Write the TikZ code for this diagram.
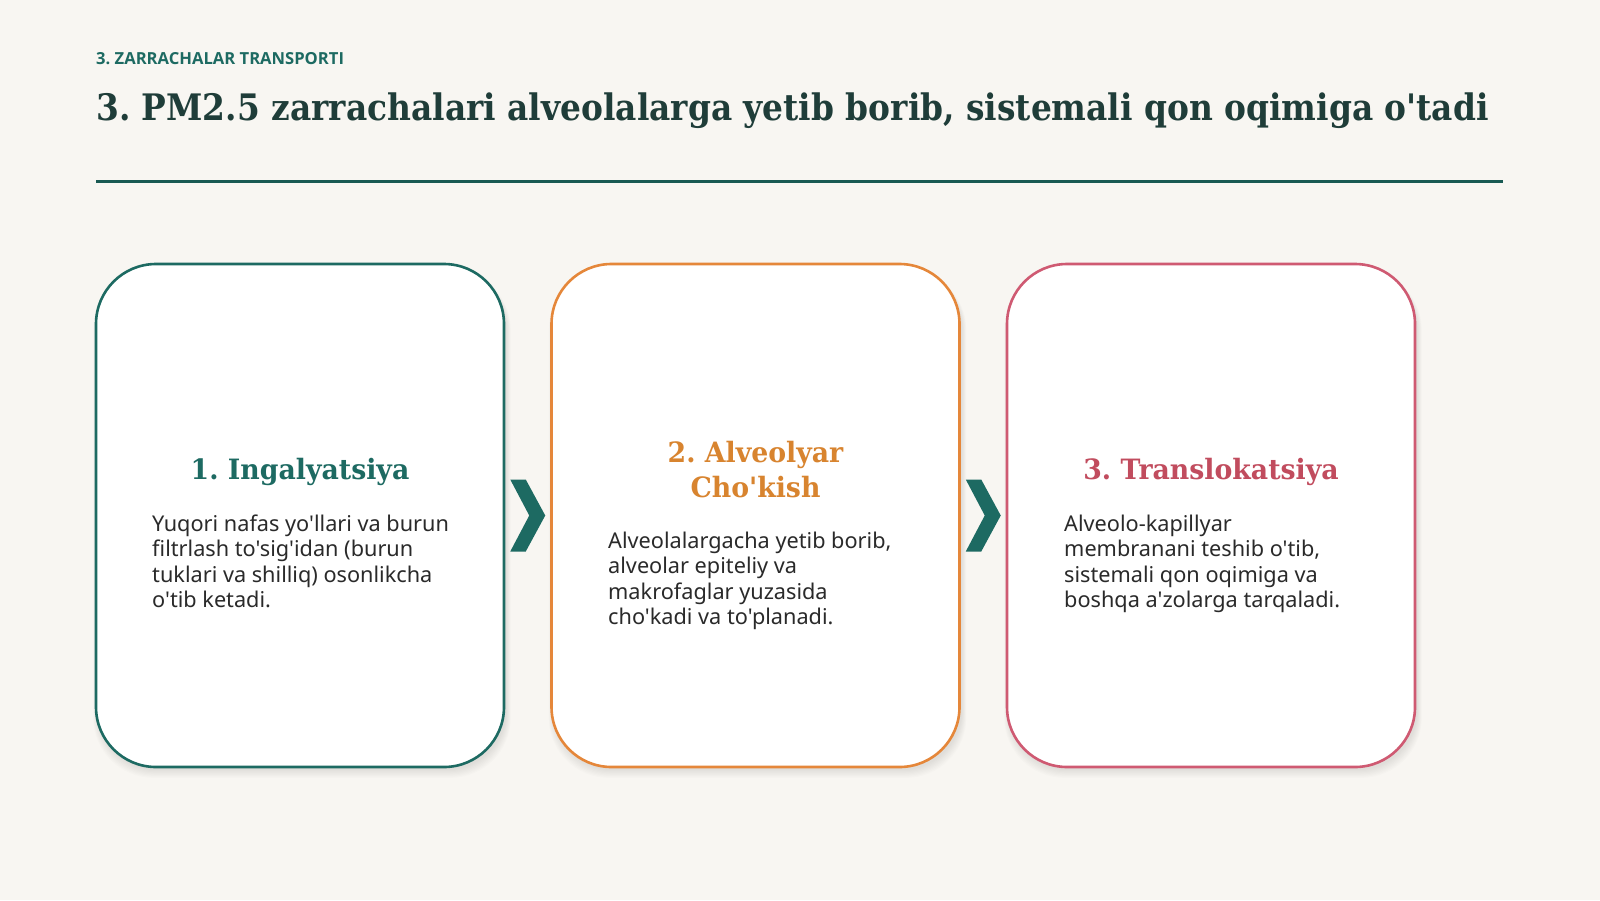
\documentclass[tikz,border=0pt]{standalone}
\usepackage{fontspec}
\setmainfont{Noto Sans}[Ligatures=TeXOff]
\newfontfamily\hdrfont{Open Sans}[Ligatures=TeXOff]
\newfontfamily\titlefont[FakeStretch=0.9]{DejaVu Serif}
\newfontfamily\cardfont[FakeStretch=0.955]{DejaVu Serif}
\usetikzlibrary{calc}
\definecolor{bgc}{HTML}{F8F6F2}
\definecolor{teal}{HTML}{1D6A62}
\definecolor{tealdark}{HTML}{1F3D39}
\definecolor{orng}{HTML}{E5873A}
\definecolor{orngt}{HTML}{D8842F}
\definecolor{crim}{HTML}{CF5A72}
\definecolor{crimt}{HTML}{C14C5E}
\definecolor{bodyc}{HTML}{2A2A2A}
\tikzset{
  card/.style={draw=#1, line width=2.6pt, fill=white, rounded corners=60pt,
    minimum width=408pt, minimum height=503pt, inner sep=0pt},
  cardtitle/.style={anchor=base, inner sep=0pt, font=\cardfont\bfseries\fontsize{28}{35}\selectfont},
  bodytext/.style={anchor=base west, inner sep=0pt, text=bodyc, font=\fontsize{21.7}{25.5}\selectfont},
  chev/.style={fill=teal},
}
\frenchspacing
\begin{document}
\begin{tikzpicture}[x=1pt,y=-1pt]
\fill[bgc] (0,0) rectangle (1600,900);
\useasboundingbox (0,0) rectangle (1600,900);
% header
\node[anchor=base west, inner sep=0pt, text=teal, font=\hdrfont\bfseries\fontsize{16.6}{19}\selectfont] (kicker) at (96,64) {3. ZARRACHALAR TRANSPORTI};
\node[anchor=base west, inner sep=0pt, text=tealdark, font=\titlefont\bfseries\fontsize{36.5}{44}\selectfont] (title) at (96,120) {3. PM2.5 zarrachalari alveolalarga yetib borib, sistemali qon oqimiga o'tadi};
\coordinate (ruleL) at (96,181);
\coordinate (ruleR) at (1503,181);
\draw[teal!85!black, line width=3pt] (ruleL) -- (ruleR);
% soft shadows
\foreach \cx in {300,755.5,1211}{
  \foreach \s in {1,...,8}{
    \fill[black, opacity=0.013, rounded corners=60pt]
      (\cx-204-\s*0.6+2, 264+6) rectangle (\cx+204+\s*0.6+2, 767+2+\s*1.1);
  }
}
% cards
\node[card=teal] (card1) at (300,515.5) {};
\node[card=orng] (card2) at (755.5,515.5) {};
\node[card=crim] (card3) at (1211,515.5) {};
% card 1
\node[cardtitle, text=teal] (t1) at (300,479) {1. Ingalyatsiya};
\node[bodytext] (b1) at (152,531) {\vtop{\baselineskip=25.5pt
  \hbox{Yuqori nafas yo'llari va burun}
  \hbox{filtrlash to'sig'idan (burun}
  \hbox{tuklari va shilliq) osonlikcha}
  \hbox{o'tib ketadi.}}};
% card 2
\node[cardtitle, text=orngt] (t2) at (755.5,462) {\vtop{\baselineskip=35pt\halign{\hfil#\hfil\cr 2. Alveolyar\cr Cho'kish\cr}}};
\node[bodytext] (b2) at (608,548) {\vtop{\baselineskip=25.5pt
  \hbox{Alveolalargacha yetib borib,}
  \hbox{alveolar epiteliy va}
  \hbox{makrofaglar yuzasida}
  \hbox{cho'kadi va to'planadi.}}};
% card 3
\node[cardtitle, text=crimt] (t3) at (1211,479) {3. Translokatsiya};
\node[bodytext] (b3) at (1064,531) {\vtop{\baselineskip=25.5pt
  \hbox{Alveolo-kapillyar}
  \hbox{membranani teshib o'tib,}
  \hbox{sistemali qon oqimiga va}
  \hbox{boshqa a'zolarga tarqaladi.}}};
% chevrons
\coordinate (c12) at ($(card1.east)!0.5!(card2.west)$);
\coordinate (c23) at ($(card2.east)!0.5!(card3.west)$);
\foreach \c in {c12,c23}{
  \fill[chev] ($(\c)+(-17.5,-36)$) -- ($(\c)+(-2,-36)$) -- ($(\c)+(17.5,0)$)
    -- ($(\c)+(-2,36)$) -- ($(\c)+(-17.5,36)$) -- ($(\c)+(1.5,0)$) -- cycle;
}
\end{tikzpicture}
\end{document}
